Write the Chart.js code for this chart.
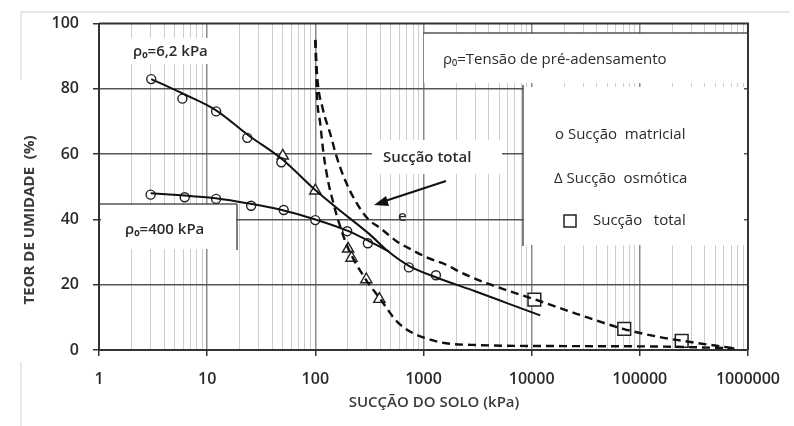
<!DOCTYPE html>
<html>
<head>
<meta charset="utf-8">
<script src="https://cdn.jsdelivr.net/npm/chart.js@4.4.1/dist/chart.umd.min.js"></script>
<style>
  html, body { margin: 0; padding: 0; background: #fff; }
  #wrap { position: relative; width: 794px; height: 426px; }
</style>
</head>
<body>
<div id="wrap"><canvas id="graph" width="794" height="426"></canvas></div>
<script>
const graphRef = document.getElementById('graph');

// eixos
const suctionLabels = [1, 10, 100, 1000, 10000, 100000, 1000000];
const moistureLabels = [0, 20, 40, 60, 80, 100];

// curva ajustada, p0 = 6,2 kPa
const upperSuction = [3.04, 6, 12, 24, 50, 100, 158, 316, 480, 733, 1300, 3000, 6000, 12000];
const upperMoisture = [83, 78.5, 73.5, 65.8, 58.3, 49, 43.5, 35.5, 30, 25.8, 22.3, 18, 14.3, 10.6];

// curva ajustada, p0 = 400 kPa
const lowerSuction = [3, 6.2, 12, 25, 50, 100, 200, 316, 480];
const lowerMoisture = [48, 47.3, 46.5, 44.8, 42.8, 40, 36.5, 33.3, 30.2];

// curva tracejada - succao osmotica
const osmoticSuction = [100, 103.5, 111, 119, 132, 147, 160, 201, 290, 391, 594, 1200, 3200, 20000, 200000, 750000];
const osmoticMoisture = [95, 78.4, 69.4, 60.3, 51.3, 45, 40.5, 31.2, 21.8, 16, 8.1, 3, 1.5, 1.2, 1, 0.5];

// curva tracejada - succao total
const totalSuction = [100, 104, 117, 137, 157, 187, 239, 306, 404, 555, 800, 1100, 1600, 2265, 4200, 10500, 26000, 70000, 150000, 250000, 750000];
const totalMoisture = [95, 84, 74, 66.4, 59.3, 52.3, 45.2, 40.2, 37.2, 33.5, 30.5, 28.2, 26.2, 23.6, 20, 15.6, 11.1, 6.5, 4, 2.8, 0.5];

// pontos medidos
const matricSuction = [3.04, 5.9, 12.1, 23.5, 48.5, 3, 6.2, 12.1, 25.5, 51, 100, 197, 306, 733, 1303];
const matricMoisture = [83, 77, 73.1, 65, 57.5, 47.6, 46.8, 46.3, 44.2, 42.9, 39.8, 36.4, 32.7, 25.3, 22.9];
const osmoticPtSuction = [50, 100, 201, 216, 296, 391];
const osmoticPtMoisture = [59.5, 48.8, 31, 28.2, 21.6, 15.6];
const totalPtSuction = [10600, 71800, 243800];
const totalPtMoisture = [15.4, 6.5, 2.8];

function toPoints(xs, ys) {
  return xs.map((x, i) => ({ x: x, y: ys[i] }));
}

function isDecade(v) {
  return suctionLabels.includes(v);
}

const FONT = "'Open Sans', 'DejaVu Sans', sans-serif";

const annotations = {
  id: 'annotations',
  beforeDatasetsDraw(chart) {
    const ctx = chart.ctx;
    ctx.save();
    ctx.fillStyle = '#fff';
    ctx.fillRect(424, 34, 322, 49);   // caixa p0 = tensao
    ctx.fillRect(524, 87, 220, 158);  // legenda
    ctx.fillRect(372, 140, 130, 34);  // "Succao total"
    ctx.fillRect(126, 38, 100, 26);   // p0 6,2
    ctx.fillRect(101, 205, 135, 44);  // p0 400
    ctx.strokeStyle = '#555';
    ctx.lineWidth = 1.5;
    ctx.beginPath();
    ctx.moveTo(423, 33); ctx.lineTo(747, 33);
    ctx.moveTo(523, 85); ctx.lineTo(523, 246);
    ctx.moveTo(100, 204); ctx.lineTo(237, 204);
    ctx.moveTo(237, 204); ctx.lineTo(237, 250);
    ctx.stroke();
    ctx.restore();
  },
  afterDatasetsDraw(chart) {
    const ctx = chart.ctx;
    const a = chart.chartArea;
    ctx.save();
    // moldura superior e direita
    ctx.strokeStyle = '#333';
    ctx.lineWidth = 2;
    ctx.beginPath();
    ctx.moveTo(a.left, a.top); ctx.lineTo(a.right, a.top); ctx.lineTo(a.right, a.bottom);
    ctx.stroke();

    // borda clara da figura
    ctx.strokeStyle = '#d0d0d0';
    ctx.lineWidth = 1;
    ctx.beginPath();
    ctx.moveTo(21, 80); ctx.lineTo(21, 12); ctx.lineTo(790, 12);
    ctx.moveTo(21, 362); ctx.lineTo(21, 426);
    ctx.stroke();

    ctx.fillStyle = '#2b2b2b';
    ctx.textBaseline = 'middle';
    ctx.textAlign = 'left';
    ctx.font = '600 15px ' + FONT;
    ctx.fillText('ρ₀=6,2 kPa', 133, 52);
    ctx.fillText('ρ₀=400 kPa', 125, 230);
    ctx.font = '500 15px ' + FONT;
    ctx.fillText('ρ₀=Tensão de pré-adensamento', 443, 60);
    ctx.font = '600 15px ' + FONT;
    ctx.fillText('Sucção total', 383, 158);
    ctx.fillText('e', 398, 217);
    ctx.font = '500 15px ' + FONT;
    ctx.fillText('o Sucção  matricial', 555, 135);
    ctx.fillText('Δ Sucção  osmótica', 554, 179);
    ctx.fillText('Sucção   total', 593, 221);
    ctx.strokeStyle = '#222';
    ctx.lineWidth = 1.5;
    ctx.strokeRect(564, 215, 12, 12);

    // seta
    ctx.strokeStyle = '#111';
    ctx.lineWidth = 2;
    ctx.beginPath();
    ctx.moveTo(446, 181); ctx.lineTo(382, 202);
    ctx.stroke();
    ctx.fillStyle = '#111';
    ctx.beginPath();
    ctx.moveTo(374, 205); ctx.lineTo(386, 196); ctx.lineTo(389, 206);
    ctx.closePath();
    ctx.fill();

    // titulos dos eixos
    ctx.fillStyle = '#3a3a3a';
    ctx.font = '600 15px ' + FONT;
    ctx.textAlign = 'center';
    ctx.fillText('SUCÇÃO DO SOLO (kPa)', 434, 403);
    ctx.translate(30, 220);
    ctx.rotate(-Math.PI / 2);
    ctx.font = '700 15px ' + FONT;
    ctx.fillText('TEOR DE UMIDADE  (%)', 0, 0);
    ctx.restore();
  }
};

const lineStyle = { borderColor: '#111', pointRadius: 0, fill: false, cubicInterpolationMode: 'monotone', tension: 0.4, showLine: true };
const markStyle = { showLine: false, pointBackgroundColor: '#fff', pointBorderColor: '#222' };

new Chart(graphRef, {
  type: 'scatter',
  data: {
    datasets: [
      Object.assign({ label: 'p0 6,2', data: toPoints(upperSuction, upperMoisture), borderWidth: 2 }, lineStyle),
      Object.assign({ label: 'p0 400', data: toPoints(lowerSuction, lowerMoisture), borderWidth: 2 }, lineStyle),
      Object.assign({ label: 'osmotica', data: toPoints(osmoticSuction, osmoticMoisture), borderWidth: 2.4, borderDash: [8, 5] }, lineStyle),
      Object.assign({ label: 'total', data: toPoints(totalSuction, totalMoisture), borderWidth: 2.4, borderDash: [8, 5] }, lineStyle),
      Object.assign({ label: 'Sucção matricial', data: toPoints(matricSuction, matricMoisture), pointStyle: 'circle', pointRadius: 4.5, pointBorderWidth: 1.4 }, markStyle),
      Object.assign({ label: 'Sucção osmótica', data: toPoints(osmoticPtSuction, osmoticPtMoisture), pointStyle: 'triangle', pointRadius: 6.5, pointBorderWidth: 1.4 }, markStyle),
      Object.assign({ label: 'Sucção total', data: toPoints(totalPtSuction, totalPtMoisture), pointStyle: 'rect', pointRadius: 9, pointBorderWidth: 1.5 }, markStyle),
    ],
  },
  options: {
    responsive: false,
    animation: false,
    devicePixelRatio: 1,
    layout: { padding: { top: 18, right: 37, left: 0, bottom: 0 } },
    plugins: { legend: { display: false }, tooltip: { enabled: false } },
    scales: {
      x: {
        type: 'logarithmic',
        min: 1,
        max: 1000000,
        afterBuildTicks: (scale) => {
          const t = [];
          for (let d = 1; d < 1000000; d *= 10) {
            for (let m = 1; m <= 9; m++) t.push({ value: m * d });
          }
          t.push({ value: 1000000 });
          scale.ticks = t;
        },
        afterFit: (scale) => { scale.height = 76; },
        ticks: {
          autoSkip: false,
          maxRotation: 0,
          padding: 14,
          color: '#2a2a2a',
          font: { family: FONT, size: 16, weight: '600' },
          callback: (value) => (isDecade(value) ? String(value) : ''),
        },
        grid: {
          color: (c) => (c.tick && isDecade(c.tick.value) ? '#8a8a8a' : '#cdcdcd'),
          lineWidth: (c) => (c.tick && isDecade(c.tick.value) ? 1.5 : 1),
          tickColor: (c) => (c.tick && isDecade(c.tick.value) ? '#333' : 'rgba(0,0,0,0)'),
          tickLength: 6,
        },
        border: { color: '#333', width: 2 },
      },
      y: {
        min: 0,
        max: 100,
        afterBuildTicks: (scale) => { scale.ticks = moistureLabels.map((v) => ({ value: v })); },
        afterFit: (scale) => { scale.width = 99; },
        ticks: {
          padding: 14,
          color: '#2a2a2a',
          font: { family: FONT, size: 16, weight: '600' },
        },
        grid: {
          color: (c) => (c.tick && (c.tick.value === 0 || c.tick.value === 100) ? 'rgba(0,0,0,0)' : '#555'),
          lineWidth: 1.5,
          tickColor: '#333',
          tickLength: 6,
        },
        border: { color: '#333', width: 2 },
      },
    },
  },
  plugins: [annotations],
});
</script>
</body>
</html>
